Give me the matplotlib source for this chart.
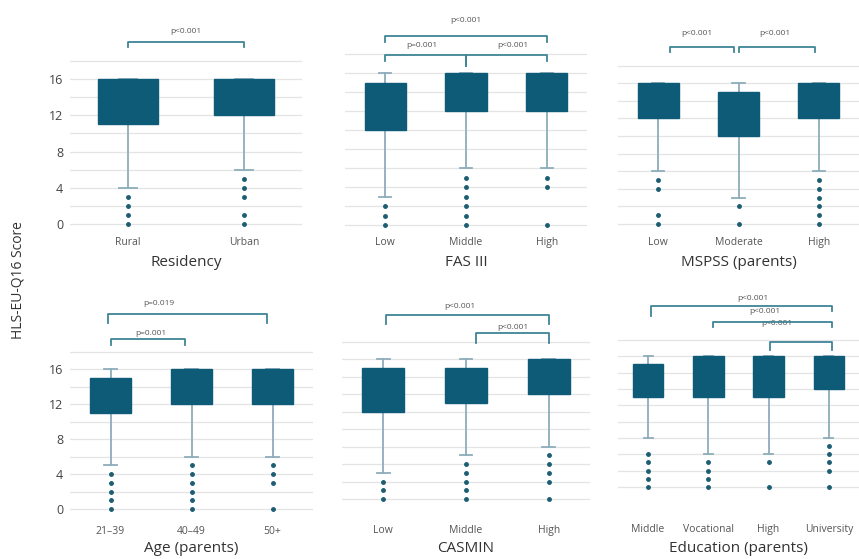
import numpy as np
import matplotlib
matplotlib.use("Agg")
import matplotlib.pyplot as plt

plt.rcParams["font.family"] = ["Open Sans", "DejaVu Sans"]

# ---- data ----
res_cats = ["Rural", "Urban"]
res_q1 = [11, 12]
res_q3 = [16, 16]
res_lo = [4, 6]
res_hi = [16, 16]
res_fl = [[3, 2, 1, 0], [5, 4, 3, 1, 0]]

fas_cats = ["Low", "Middle", "High"]
fas_q1 = [10, 12, 12]
fas_q3 = [15, 16, 16]
fas_lo = [3, 6, 6]
fas_hi = [16, 16, 16]
fas_fl = [[2, 1, 0], [5, 4, 3, 2, 1, 0], [5, 4, 0]]

msp_cats = ["Low", "Moderate", "High"]
msp_q1 = [12, 10, 12]
msp_q3 = [16, 15, 16]
msp_lo = [6, 3, 6]
msp_hi = [16, 16, 16]
msp_fl = [[5, 4, 1, 0], [2, 0], [5, 4, 3, 2, 1, 0]]

age_cats = ["21\u201339", "40\u201349", "50+"]
age_q1 = [11, 12, 12]
age_q3 = [15, 16, 16]
age_lo = [5, 6, 6]
age_hi = [16, 16, 16]
age_fl = [[4, 3, 2, 1, 0], [5, 4, 3, 2, 1, 0], [5, 4, 3, 0]]

cas_cats = ["Low", "Middle", "High"]
cas_q1 = [10, 11, 12]
cas_q3 = [15, 15, 16]
cas_lo = [3, 5, 6]
cas_hi = [16, 16, 16]
cas_fl = [[2, 1, 0], [4, 3, 2, 1, 0], [5, 4, 3, 2, 0]]

edu_cats = ["Middle", "Vocational", "High", "University"]
edu_q1 = [11, 11, 11, 12]
edu_q3 = [15, 16, 16, 16]
edu_lo = [6, 4, 4, 6]
edu_hi = [16, 16, 16, 16]
edu_fl = [[4, 3, 2, 1, 0], [3, 2, 1, 0], [3, 0], [5, 4, 3, 2, 0]]

# p-value brackets: (from, to, label)
res_p = [(1, 2, "p<0.001")]
fas_p = [(1, 3, "p<0.001"), (1, 2, "p=0.001"), (2, 3, "p<0.001")]
msp_p = [(1, 2, "p<0.001"), (2, 3, "p<0.001")]
age_p = [(1, 3, "p=0.019"), (1, 2, "p=0.001")]
cas_p = [(1, 3, "p<0.001"), (2, 3, "p<0.001")]
edu_p = [(1, 4, "p<0.001"), (2, 4, "p<0.001"), (3, 4, "p<0.001")]

BOX = "#0e5b78"
WHISK = "#8eadbb"
BRACK = "#3f8597"
W, H = 859, 559

fig = plt.figure(figsize=(W / 100, H / 100), dpi=100)
fig.patch.set_facecolor("white")


def panel(x0, x1, y0, unit, cats, q1, q3, lo, hi, fl, xlabel, ylabels, pad, xl_y):
    ylo, yhi = -0.25, 18.15
    bot = y0 - ylo * unit
    top = y0 - yhi * unit
    ax = fig.add_axes([x0 / W, 1 - bot / H, (x1 - x0) / W, (bot - top) / H])
    stats = [dict(q1=a, q3=b, med=b, whislo=c, whishi=d, fliers=e)
             for a, b, c, d, e in zip(q1, q3, lo, hi, fl)]
    ax.bxp(stats, positions=range(1, len(cats) + 1), widths=0.51, capwidths=0.15,
           patch_artist=True, showfliers=True,
           boxprops=dict(facecolor=BOX, edgecolor=BOX, linewidth=1, zorder=4),
           whiskerprops=dict(color=WHISK, linewidth=1.3, zorder=2),
           capprops=dict(color=WHISK, linewidth=1.3, zorder=2),
           medianprops=dict(linewidth=0),
           flierprops=dict(marker="o", markersize=2.5, markerfacecolor="#1d5d72",
                           markeredgecolor="#1d5d72"))
    ax.set_xlim(0.5, len(cats) + 0.5)
    ax.set_ylim(ylo, yhi)
    ax.set_yticks([0, 4, 8, 12, 16])
    ax.set_yticks([2, 6, 10, 14, 18], minor=True)
    ax.grid(axis="y", which="both", color="#e4e4e4", linewidth=0.9, zorder=0)
    ax.set_axisbelow(True)
    if ylabels:
        ax.tick_params(axis="y", labelsize=9, labelcolor="#444", length=0, pad=5)
    else:
        ax.tick_params(axis="y", labelleft=False, length=0)
    ax.tick_params(axis="y", which="minor", length=0)
    ax.set_xticks(range(1, len(cats) + 1))
    ax.set_xticklabels(cats)
    ax.tick_params(axis="x", labelsize=7.5, labelcolor="#555", length=0, pad=pad)
    for s in ax.spines.values():
        s.set_visible(False)
    fig.text((x0 + x1) / 2 / W, 1 - xl_y / H, xlabel, fontsize=11, color="#333",
             ha="center", va="center")
    return ax


def bracket(ax, x1, x2, y, label, tx, ty, dl=0.6, dr=0.6):
    ax.plot([x1, x1, x2, x2], [y - dl, y, y, y - dr], color=BRACK, lw=1.3,
            clip_on=False, solid_joinstyle="round", zorder=5)
    ax.text(tx, ty, label, fontsize=6, color="#555", ha="center", va="center",
            clip_on=False)


ax1 = panel(70, 302, 224, 9.06, res_cats, res_q1, res_q3, res_lo, res_hi, res_fl,
            "Residency", True, 8, 262)
a, b, t = res_p[0]
bracket(ax1, a, b, 20.1, t, 1.5, 21.3)

ax2 = panel(345, 587, 225, 9.48, fas_cats, fas_q1, fas_q3, fas_lo, fas_hi, fas_fl,
            "FAS III", False, 7, 262)
a, b, t = fas_p[0]
bracket(ax2, a, b, 19.9, t, 2.0, 21.6)
a, b, t = fas_p[1]
bracket(ax2, a, b, 17.95, t, 1.45, 18.9, dr=1.2)
a, b, t = fas_p[2]
bracket(ax2, a, b, 17.95, t, 2.58, 18.9, dl=1.2)

ax3 = panel(618, 859, 224, 8.8, msp_cats, msp_q1, msp_q3, msp_lo, msp_hi, msp_fl,
            "MSPSS (parents)", False, 7.5, 263)
a, b, t = msp_p[0]
bracket(ax3, a + 0.15, b - 0.05, 20.1, t, 1.48, 21.7)
a, b, t = msp_p[1]
bracket(ax3, a, b - 0.05, 20.1, t, 2.45, 21.7)

ax4 = panel(70, 313, 509, 8.75, age_cats, age_q1, age_q3, age_lo, age_hi, age_fl,
            "Age (parents)", True, 10.5, 549)
a, b, t = age_p[0]
bracket(ax4, a - 0.03, b - 0.07, 22.3, t, 1.6, 23.5, dl=1.0, dr=1.0)
a, b, t = age_p[1]
bracket(ax4, a, b - 0.08, 19.4, t, 1.5, 20.1)

ax5 = panel(342, 590, 499, 8.73, cas_cats, cas_q1, cas_q3, cas_lo, cas_hi, cas_fl,
            "CASMIN", False, 17, 549)
a, b, t = cas_p[0]
bracket(ax5, a + 0.03, b, 21.1, t, 1.93, 22.1, dl=1.1, dr=1.1)
a, b, t = cas_p[1]
bracket(ax5, a + 0.12, b, 19.0, t, 2.57, 19.7, dl=1.1, dr=1.1)

ax6 = panel(618, 859, 487, 8.17, edu_cats, edu_q1, edu_q3, edu_lo, edu_hi, edu_fl,
            "Education (parents)", False, 25, 549)
a, b, t = edu_p[0]
bracket(ax6, a + 0.05, b + 0.05, 22.2, t, 2.74, 23.1, dl=1.3)
a, b, t = edu_p[1]
bracket(ax6, a + 0.08, b + 0.05, 20.2, t, 2.94, 21.5)
a, b, t = edu_p[2]
bracket(ax6, a + 0.02, b + 0.05, 17.8, t, 3.14, 20.0, dl=1.0, dr=1.0)

fig.text(18 / W, 1 - 280 / H, "HLS-EU-Q16 Score", rotation=90, fontsize=10,
         color="#333", ha="center", va="center")

fig.savefig("out.png", dpi=100, facecolor="white")
